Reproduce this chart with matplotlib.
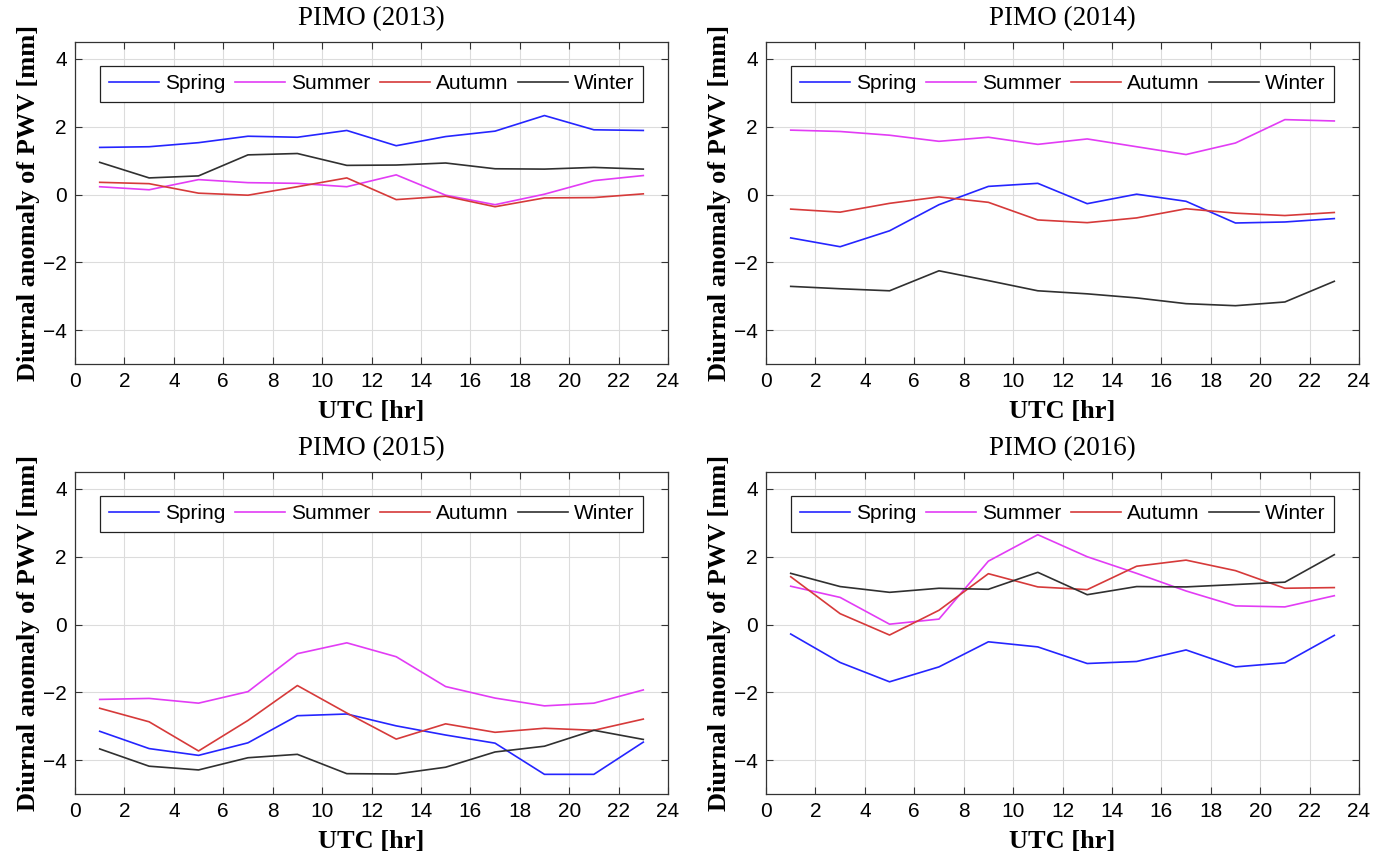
import numpy as np
import matplotlib
matplotlib.use("Agg")
import matplotlib.pyplot as plt

# horas UTC
hours = [1, 3, 5, 7, 9, 11, 13, 15, 17, 19, 21, 23]
seasons = ["Spring", "Summer", "Autumn", "Winter"]
colors = ["#2525ff", "#e23cf5", "#d63a3a", "#303030"]

# anomalias diurnas por año (mm)
spring_2013 = [1.39, 1.41, 1.53, 1.72, 1.69, 1.89, 1.44, 1.71, 1.87, 2.33, 1.91, 1.89]
summer_2013 = [0.23, 0.14, 0.44, 0.35, 0.33, 0.23, 0.58, -0.02, -0.30, 0.01, 0.41, 0.56]
autumn_2013 = [0.36, 0.32, 0.04, -0.02, 0.23, 0.49, -0.15, -0.05, -0.36, -0.10, -0.09, 0.02]
winter_2013 = [0.95, 0.49, 0.55, 1.17, 1.21, 0.86, 0.87, 0.93, 0.76, 0.75, 0.80, 0.75]

spring_2014 = [-1.28, -1.54, -1.07, -0.30, 0.24, 0.33, -0.27, 0.01, -0.20, -0.84, -0.81, -0.71]
summer_2014 = [1.90, 1.86, 1.75, 1.57, 1.69, 1.48, 1.64, 1.41, 1.18, 1.52, 2.21, 2.17]
autumn_2014 = [-0.43, -0.52, -0.26, -0.07, -0.23, -0.75, -0.83, -0.69, -0.42, -0.55, -0.62, -0.53]
winter_2014 = [-2.71, -2.78, -2.84, -2.25, -2.54, -2.84, -2.93, -3.05, -3.22, -3.28, -3.17, -2.56]

spring_2015 = [-3.15, -3.66, -3.86, -3.49, -2.69, -2.64, -2.99, -3.26, -3.50, -4.42, -4.42, -3.47]
summer_2015 = [-2.21, -2.18, -2.32, -1.98, -0.86, -0.54, -0.95, -1.83, -2.17, -2.40, -2.32, -1.93]
autumn_2015 = [-2.47, -2.87, -3.73, -2.83, -1.80, -2.61, -3.38, -2.93, -3.18, -3.06, -3.12, -2.79]
winter_2015 = [-3.67, -4.18, -4.29, -3.93, -3.83, -4.40, -4.41, -4.21, -3.76, -3.59, -3.12, -3.39]

spring_2016 = [-0.28, -1.12, -1.69, -1.25, -0.51, -0.66, -1.15, -1.09, -0.75, -1.25, -1.13, -0.32]
summer_2016 = [1.13, 0.80, 0.01, 0.16, 1.87, 2.65, 2.00, 1.51, 0.99, 0.55, 0.52, 0.85]
autumn_2016 = [1.41, 0.32, -0.31, 0.42, 1.50, 1.11, 1.03, 1.72, 1.90, 1.59, 1.07, 1.09]
winter_2016 = [1.51, 1.12, 0.95, 1.07, 1.04, 1.54, 0.88, 1.12, 1.11, 1.18, 1.25, 2.06]

years = [2013, 2014, 2015, 2016]
data = {
    2013: [spring_2013, summer_2013, autumn_2013, winter_2013],
    2014: [spring_2014, summer_2014, autumn_2014, winter_2014],
    2015: [spring_2015, summer_2015, autumn_2015, winter_2015],
    2016: [spring_2016, summer_2016, autumn_2016, winter_2016],
}

serif = "Liberation Serif"
sans = "Liberation Sans"

fig = plt.figure(figsize=(13.87, 8.67), dpi=100)

W, H = 1387.0, 867.0
# posiciones (px) de los ejes: izquierda, arriba
boxes = [(75, 42), (766, 42), (75, 472), (766, 472)]
aw, ah = 593.0, 322.0

for (x0, y0), year in zip(boxes, years):
    ax = fig.add_axes([x0 / W, 1 - (y0 + ah) / H, aw / W, ah / H])
    for vals, name, c in zip(data[year], seasons, colors):
        ax.plot(hours, vals, color=c, lw=1.2, label=name)
    ax.set_xlim(0, 24)
    ax.set_ylim(-5, 4.5)
    ax.set_xticks(np.arange(0, 25, 2))
    ax.set_yticks([-4, -2, 0, 2, 4])
    ax.grid(True, color="#dcdcdc", lw=0.8)
    ax.set_axisbelow(True)
    ax.tick_params(direction="in", top=True, right=True, length=5,
                   labelsize=15, color="#333333", pad=6)
    for lab in ax.get_xticklabels() + ax.get_yticklabels():
        lab.set_family(sans)
    for s in ax.spines.values():
        s.set_color("#333333")
        s.set_linewidth(0.9)
    ax.set_title(f"PIMO ({year})", family=serif, fontsize=19.5, pad=12)
    ax.set_xlabel("UTC [hr]", family=serif, fontsize=19, fontweight="bold", labelpad=6)
    ax.set_ylabel("Diurnal anomaly of PWV [mm]", family=serif, fontsize=19,
                  fontweight="bold", labelpad=2)
    leg = ax.legend(loc="upper center", bbox_to_anchor=(0.5, 0.927), ncol=4,
                    prop={"family": sans, "size": 15}, frameon=True, fancybox=False,
                    edgecolor="#222222", framealpha=1, handlelength=2.4,
                    columnspacing=0.45, handletextpad=0.3, borderpad=0.42,
                    borderaxespad=0)
    leg.get_frame().set_linewidth(0.9)

fig.savefig("out.png", dpi=100)
